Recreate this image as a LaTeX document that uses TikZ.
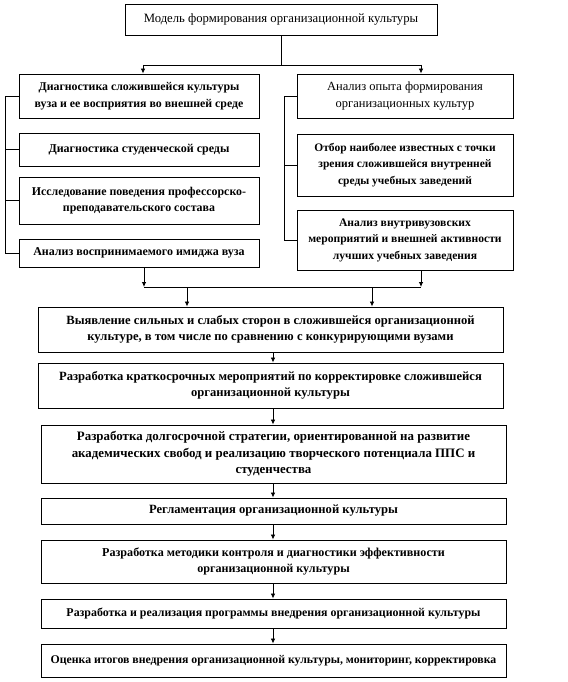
\documentclass[tikz,border=0pt]{standalone}
\usepackage{fontspec}
\setmainfont{Liberation Serif}
\usetikzlibrary{arrows.meta}
\tikzset{
  box/.style={draw=black, line width=0.9pt, fill=white, align=center, inner sep=2pt,
    font=\fontsize{#1}{16.5}\selectfont\bfseries},
  box/.default=12,
  plainbox/.style={draw=black, line width=0.9pt, fill=white, align=center, inner sep=2pt,
    font=\fontsize{#1}{16.5}\selectfont},
  plainbox/.default=12.5,
  conn/.style={line width=0.8pt},
  arr/.style={conn, -{Latex[length=5pt,width=4.5pt]}}
}
\begin{document}
\begin{tikzpicture}[x=1pt,y=-1pt]
\useasboundingbox (0,0) rectangle (567,682);
% top
\node[plainbox=12.7, minimum width=312pt, minimum height=31pt] (top) at (281,19.5) {Модель формирования организационной культуры};
% left column
\node[box=11.85, minimum width=240pt, minimum height=44pt] (L1) at (139,96) {Диагностика сложившейся культуры\\вуза и ее восприятия во внешней среде};
\node[box=12, minimum width=240pt, minimum height=33pt] (L2) at (139,149.5) {Диагностика студенческой среды};
\node[box=11.9, minimum width=240pt, minimum height=47pt] (L3) at (139,200.5) {Исследование поведения профессорско-\\преподавательского состава};
\node[box=12, minimum width=240pt, minimum height=28pt] (L4) at (139,253) {Анализ воспринимаемого имиджа вуза};
% right column
\node[plainbox=12.5, minimum width=216pt, minimum height=44pt] (R1) at (405,96) {Анализ опыта формирования\\организационных культур};
\node[box=11.5, minimum width=216pt, minimum height=62pt] (R2) at (405,165) {Отбор наиболее известных с точки\\зрения сложившейся внутренней\\среды учебных заведений};
\node[box=11.6, minimum width=216pt, minimum height=60pt] (R3) at (405,240) {Анализ внутривузовских\\мероприятий и внешней активности\\лучших учебных заведения};
% chain
\node[box=12.6, minimum width=465pt, minimum height=45pt] (B5) at (270.5,329.5) {Выявление сильных и слабых сторон в сложившейся организационной\\культуре, в том числе по сравнению с конкурирующими вузами};
\node[box=12.6, minimum width=465pt, minimum height=45pt] (B6) at (270.5,385.5) {Разработка краткосрочных мероприятий по корректировке сложившейся\\организационной культуры};
\node[box=12.9, minimum width=465pt, minimum height=58pt] (B7) at (273.5,454) {Разработка долгосрочной стратегии, ориентированной на развитие\\академических свобод и реализацию творческого потенциала ППС и\\студенчества};
\node[box=12.6, minimum width=465pt, minimum height=26pt] (B8) at (273.5,511) {Регламентация организационной культуры};
\node[box=12.1, minimum width=465pt, minimum height=43pt] (B9) at (273.5,561.5) {Разработка методики контроля и диагностики эффективности\\организационной культуры};
\node[box=11.9, minimum width=465pt, minimum height=29pt] (B10) at (273.5,613.5) {Разработка и реализация программы внедрения организационной культуры};
\node[box=11.8, minimum width=465pt, minimum height=33pt] (B11) at (273.5,660.5) {Оценка итогов внедрения организационной культуры, мониторинг, корректировка};
% top split
\coordinate (sp) at (281,65);
\coordinate (spL) at (143,65);
\coordinate (spR) at (421,65);
\draw[conn] (top.south) -- (sp);
\draw[conn] (spL) -- (spR);
\draw[arr] (spL) -- (spL |- L1.north);
\draw[arr] (spR) -- (spR |- R1.north);
% left bracket
\coordinate (lb) at (5,0);
\draw[conn] (L1.west) -- (L1.west -| lb) -- (L4.west -| lb) -- (L4.west);
\draw[conn] (L2.west -| lb) -- (L2.west);
\draw[conn] (L3.west -| lb) -- (L3.west);
% right bracket
\coordinate (rb) at (284,0);
\draw[conn] (R1.west) -- (R1.west -| rb) -- (R3.west -| rb) -- (R3.west);
\draw[conn] (R2.west -| rb) -- (R2.west);
% merge
\coordinate (mL) at (144,287);
\coordinate (mR) at (421,287);
\coordinate (m1) at (187,287);
\coordinate (m2) at (372,287);
\draw[arr] (mL |- L4.south) -- (mL);
\draw[arr] (mR |- R3.south) -- (mR);
\draw[conn] (mL) -- (mR);
\draw[arr] (m1) -- (m1 |- B5.north);
\draw[arr] (m2) -- (m2 |- B5.north);
% chain arrows
\coordinate (cx) at (273,0);
\draw[arr] (cx |- B5.south) -- (cx |- B6.north);
\draw[arr] (cx |- B6.south) -- (cx |- B7.north);
\draw[arr] (cx |- B7.south) -- (cx |- B8.north);
\draw[arr] (cx |- B8.south) -- (cx |- B9.north);
\draw[arr] (cx |- B9.south) -- (cx |- B10.north);
\draw[arr] (cx |- B10.south) -- (cx |- B11.north);
\end{tikzpicture}
\end{document}
